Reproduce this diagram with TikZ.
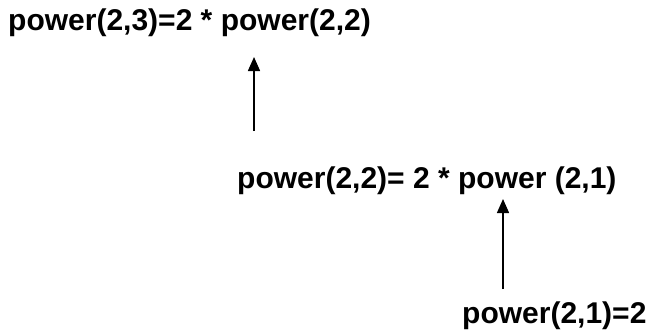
\documentclass[tikz,border=0pt]{standalone}
\usepackage{fontspec}
\setmainfont{Liberation Sans}
\usetikzlibrary{arrows.meta}
\begin{document}
\begin{tikzpicture}[x=1pt,y=-1pt,
  lbl/.style={anchor=base west,inner sep=0pt,font=\fontsize{30}{36}\selectfont\bfseries},
  arr/.style={line width=1.5pt,-{Triangle[length=14pt,width=12pt]}}]
\useasboundingbox (0,0) rectangle (647,333);
\node[lbl] (t1) at (8,30) {power(2,3)=2 * power(2,2)};
\node[lbl] (t2) at (237,188) {power(2,2)= 2 * power (2,1)};
\node[lbl] (t3) at (462,323) {power(2,1)=2};
\coordinate (a1s) at (254,131);
\coordinate (a1e) at (254,57);
\coordinate (a2s) at (503,289);
\coordinate (a2e) at (503,199);
\draw[arr] (a1s) -- (a1e);
\draw[arr] (a2s) -- (a2e);
\end{tikzpicture}
\end{document}
